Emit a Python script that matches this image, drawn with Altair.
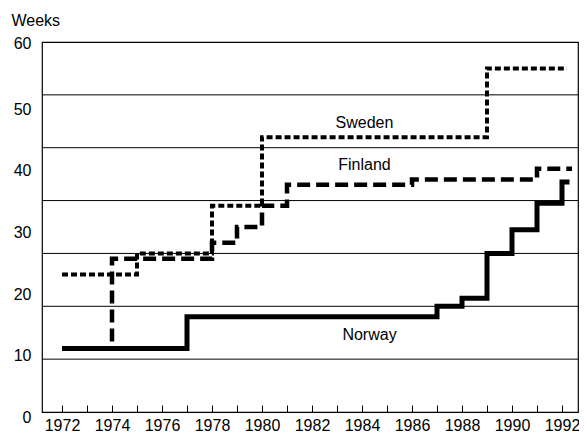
import altair as alt
import pandas as pd

# ---- data ----
sweden_years = [1972, 1975, 1978, 1980, 1989, 1992.2]
sweden_weeks = [26, 30, 39, 52, 65, 65]

finland_years = [1972, 1974, 1978, 1979, 1980, 1981, 1986, 1991, 1992.4]
finland_weeks = [12, 29, 32, 35, 39, 43, 44, 46, 46]

norway_years = [1972, 1977, 1987, 1988, 1989, 1990, 1991, 1992, 1992.3]
norway_weeks = [12, 18, 20, 21.5, 30, 34.5, 39.5, 43.5, 43.5]

tick_years = list(range(1972, 1993))
# y tick labels as printed (0..60), spread evenly over the full axis height
y_label_text = [0, 10, 20, 30, 40, 50, 60]
grid_values = [10, 20, 30, 40, 50, 60]

label_names = ["Sweden", "Finland", "Norway"]
label_years = [1984.1, 1984.1, 1984.3]
label_weeks = [54.7, 46.7, 14.6]

rows = []
for name, ys, ws in [("Sweden", sweden_years, sweden_weeks),
                     ("Finland", finland_years, finland_weeks),
                     ("Norway", norway_years, norway_weeks)]:
    for yr, wk in zip(ys, ws):
        rows.append({"country": name, "year": yr, "weeks": wk})
df = pd.DataFrame(rows)
text_df = pd.DataFrame({"label": label_names, "year": label_years, "weeks": label_weeks})
grid_df = pd.DataFrame({"g": grid_values})

FONT = "Liberation Sans, Arial, sans-serif"
FS = 16

Y_MAX = 70
label_positions = [v * Y_MAX / 60 for v in y_label_text]

x_scale = alt.Scale(domain=[1971.2, 1992.64], nice=False, zero=False)
y_scale = alt.Scale(domain=[0, Y_MAX], nice=False, zero=True)

x_axis = alt.Axis(values=tick_years, format="d",
                  labelExpr="datum.value % 2 == 0 ? datum.label : ''",
                  offset=-7, tickSize=7, tickColor="black", tickWidth=1,
                  domain=False, grid=False, title=None, labelPadding=5,
                  labelFlush=False, labelFont=FONT, labelFontSize=FS,
                  labelColor="black")
y_axis = alt.Axis(values=label_positions,
                  labelExpr="format(round(datum.value * 60 / %d), 'd')" % Y_MAX,
                  labelOffset={"condition": {"test": "datum.value > 69", "value": 1},
                               "value": 5.5},
                  domain=False, ticks=False, grid=False, labelPadding=11,
                  labelFlush=False, labelFont=FONT, labelFontSize=FS,
                  labelColor="black", title="Weeks", titleAngle=0,
                  titleX=-31, titleY=-22, titleAlign="left",
                  titleBaseline="middle", titleFont=FONT, titleFontSize=FS,
                  titleFontWeight="normal", titleColor="black")

grid = alt.Chart(grid_df).mark_rule(color="black", strokeWidth=1).encode(
    y=alt.Y("g:Q", scale=y_scale, axis=y_axis))

base = alt.Chart(df).encode(
    x=alt.X("year:Q", scale=x_scale, axis=x_axis),
    y=alt.Y("weeks:Q", scale=y_scale, axis=y_axis),
)

sweden = base.transform_filter("datum.country == 'Sweden'").mark_line(
    interpolate="step-after", color="black", strokeWidth=4,
    strokeDash=[6, 3], strokeCap="butt")
finland = base.transform_filter("datum.country == 'Finland'").mark_line(
    interpolate="step-after", color="black", strokeWidth=4.5,
    strokeDash=[13, 6], strokeCap="butt")
norway = base.transform_filter("datum.country == 'Norway'").mark_line(
    interpolate="step-after", color="black", strokeWidth=5, strokeCap="butt")

texts = alt.Chart(text_df).mark_text(
    font=FONT, fontSize=FS, color="black").encode(
    x=alt.X("year:Q", scale=x_scale, axis=x_axis),
    y=alt.Y("weeks:Q", scale=y_scale, axis=y_axis),
    text="label:N",
)

chart = alt.layer(grid, sweden, finland, norway, texts).properties(
    width=536, height=370,
    autosize=alt.AutoSizeParams(type="none"),
    padding={"left": 34, "top": 34, "right": 1, "bottom": 21},
).configure_view(stroke="black", strokeWidth=1.2)

chart.save("out.html", embed_options={"renderer": "svg", "actions": False})
